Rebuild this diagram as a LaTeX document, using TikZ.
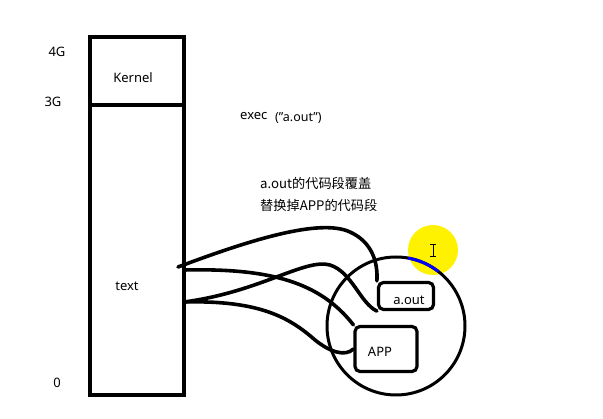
\documentclass[tikz,border=0pt]{standalone}
\usepackage{fontspec}
\setmainfont[Ligatures=NoCommon]{Noto Sans}
\newfontfamily\cjk{Noto Sans CJK SC}
\begin{document}
\begin{tikzpicture}[x=1pt,y=-1pt,
  lbl/.style={font=\fontsize{13}{15}\selectfont, inner sep=0pt},
  wire/.style={line width=3.6pt, line cap=round},
  rbox/.style={draw, line width=3.2pt, rounded corners=5pt, inner sep=0pt}]
\useasboundingbox[fill=white] (0,0) rectangle (603,419);
% memory column
\draw[line width=4pt] (90,37) rectangle (184,395);
\draw[line width=4pt] (90,105) -- (184,105);
\node[lbl] (g4) at (57,52) {4G};
\node[lbl] (g3) at (53,102) {3G};
\node[lbl] (g0) at (57,383) {0};
\node[lbl] (kern) at (133,78) {Kernel};
\node[lbl] (txt) at (127,286) {text};
\coordinate (sA) at (178,267);
\coordinate (sB) at (184,270);
\coordinate (sC) at (184,302);
% texts
\node[lbl, anchor=west] (exec) at (240,116) {exec};
\node[lbl, anchor=west, font=\fontsize{12.5}{14}\selectfont] (arg) at (275,118) {(\symbol{34}a.out\symbol{34})};
\node[lbl, anchor=west, font=\cjk\fontsize{13.2}{15}\selectfont] (c1) at (260,183) {a.out的代码段覆盖};
\node[lbl, anchor=west, font=\cjk\fontsize{13.2}{15}\selectfont] (c2) at (260,205) {替换掉APP的代码段};
% highlight (cursor)
\fill[yellow] (433,250) circle (25);
% process circle
\draw[line width=3pt] (396,326) circle (69);
\draw[line width=3pt, blue] (396,326) ++(52:69 and -69) arc[start angle=52, end angle=80, x radius=69, y radius=-69];
% cursor I-beam
\draw[line width=0.9pt] (433,244) -- (433,256) (430,244) -- (436,244) (430,256) -- (436,256);
% boxes
\node[rbox, minimum width=55pt, minimum height=27pt] (aout) at (406,296) {};
\node[lbl] at (409,300) {a.out};
\node[rbox, minimum width=62pt, minimum height=45pt] (app) at (386,349) {};
\node[lbl] at (380,352) {APP};
% wires
\draw[wire] (sA) .. controls (250,240) and (320,218) .. (350,232) .. controls (372,242) and (378,262) .. (aout.north west);
\draw[wire] (sB) .. controls (270,268) and (320,282) .. (app.north west);
\draw[wire] (sC) .. controls (260,292) and (305,258) .. (330,265) .. controls (352,272) and (360,303) .. (aout.south west);
\draw[wire] (sC) .. controls (260,300) and (290,318) .. (315,340) .. controls (330,352) and (345,357) .. (app.west);
\end{tikzpicture}
\end{document}
